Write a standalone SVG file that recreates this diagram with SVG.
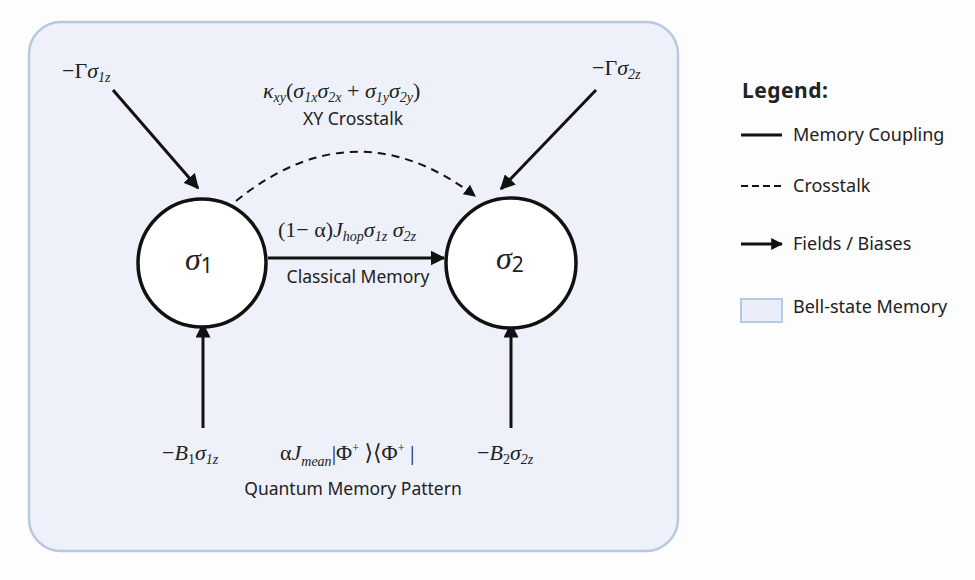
<svg xmlns="http://www.w3.org/2000/svg" width="975" height="580" viewBox="0 0 975 580">
<defs>
<style>
.m{font-family:"Liberation Serif","DejaVu Serif",serif;font-size:22px;fill:#222}
.mi{font-style:italic}
.sb{font-size:14px;font-style:italic}
.s{font-family:"Noto Sans","Open Sans",sans-serif;font-size:17.5px;fill:#222}
.lg{font-family:"Noto Sans","Open Sans",sans-serif;font-size:18px;fill:#222}
.ln{stroke:#111;stroke-width:3;fill:none}
.node{fill:#fff;stroke:#111;stroke-width:3.5}
</style>
<marker id="ah" viewBox="0 0 10 10" refX="9" refY="5" markerWidth="5" markerHeight="5" orient="auto" markerUnits="strokeWidth"><path d="M0,0 L10,5 L0,10 z" fill="#111"/></marker>
<marker id="ahl" viewBox="0 0 10 10" refX="9" refY="5" markerWidth="4" markerHeight="4" orient="auto" markerUnits="strokeWidth"><path d="M0,0 L10,5 L0,10 z" fill="#111"/></marker>
<marker id="ahs" viewBox="0 0 10 10" refX="9" refY="5" markerWidth="6" markerHeight="6" orient="auto" markerUnits="strokeWidth"><path d="M0,0 L10,5 L0,10 z" fill="#111"/></marker>
</defs>
<rect width="975" height="580" fill="#fdfdfe"/>
<g id="panel"><rect x="29" y="22" width="649" height="529" rx="32" fill="#eef1fa" stroke="#b7c8e2" stroke-width="2.5"/></g>
<g id="connectors">
<line class="ln" x1="113" y1="90" x2="198" y2="188" marker-end="url(#ah)"/>
<line class="ln" x1="596" y1="90" x2="501" y2="189" marker-end="url(#ah)"/>
<line class="ln" x1="203" y1="428" x2="203" y2="324" marker-end="url(#ah)"/>
<line class="ln" x1="511" y1="428" x2="511" y2="324" marker-end="url(#ah)"/>
<line class="ln" x1="268" y1="258" x2="444" y2="258" marker-end="url(#ah)"/>
<path d="M236,201 Q355,105 475,196" stroke="#111" stroke-width="2" fill="none" stroke-dasharray="8,6" marker-end="url(#ahs)"/>
</g>
<g id="node-sigma1"><circle class="node" cx="202" cy="263" r="64"/><text class="m mi" x="185" y="270" style="font-size:32px">σ<tspan style="font-style:normal;font-family:'Noto Sans',sans-serif;font-size:21px" dy="3">1</tspan></text></g>
<g id="node-sigma2"><circle class="node" cx="511" cy="263" r="65"/><text class="m mi" x="496" y="269" style="font-size:32px">σ<tspan style="font-style:normal;font-family:'Noto Sans',sans-serif;font-size:21px" dy="3">2</tspan></text></g>
<g id="labels">
<text class="m" x="62" y="78">−Γ<tspan class="mi">σ</tspan><tspan class="sb" dy="4">1z</tspan></text>
<text class="m" x="592" y="75">−Γ<tspan class="mi">σ</tspan><tspan class="sb" dy="4">2z</tspan></text>
<text class="m" x="263" y="98"><tspan class="mi">κ</tspan><tspan class="sb" dy="4">xy</tspan><tspan dy="-4">(</tspan><tspan class="mi">σ</tspan><tspan class="sb" dy="4">1x</tspan><tspan class="mi" dy="-4">σ</tspan><tspan class="sb" dy="4">2x</tspan><tspan dy="-4"> + </tspan><tspan class="mi">σ</tspan><tspan class="sb" dy="4">1y</tspan><tspan class="mi" dy="-4">σ</tspan><tspan class="sb" dy="4">2y</tspan><tspan dy="-4">)</tspan></text>
<text class="s" x="353" y="125" text-anchor="middle">XY Crosstalk</text>
<text class="m" x="278" y="237">(1− α)<tspan class="mi">J</tspan><tspan class="sb" dy="4">hop</tspan><tspan class="mi" dy="-4">σ</tspan><tspan class="sb" dy="4">1z</tspan><tspan class="mi" dy="-4"> σ</tspan><tspan class="sb" dy="4">2z</tspan></text>
<text class="s" x="358" y="283" text-anchor="middle">Classical Memory</text>
<text class="m" x="162" y="460">−<tspan class="mi">B</tspan><tspan style="font-size:14px" dy="4">1</tspan><tspan class="mi" dy="-4">σ</tspan><tspan class="sb" dy="4">1z</tspan></text>
<text class="m" x="477" y="460">−<tspan class="mi">B</tspan><tspan style="font-size:14px" dy="4">2</tspan><tspan class="mi" dy="-4">σ</tspan><tspan class="sb" dy="4">2z</tspan></text>
<text class="m" x="280" y="460">α<tspan class="mi">J</tspan><tspan class="sb" dy="6">mean</tspan><tspan dy="-6">|Φ</tspan><tspan style="font-size:12px" dy="-8">+</tspan><tspan dy="8"> ⟩⟨Φ</tspan><tspan style="font-size:12px" dy="-8">+</tspan><tspan dy="8"> |</tspan></text>
<text class="s" x="353" y="495" text-anchor="middle">Quantum Memory Pattern</text>
</g>
<g id="legend">
<text class="lg" x="742" y="98" style="font-size:21px;font-weight:bold;letter-spacing:0.5px">Legend:</text>
<line x1="741" y1="135" x2="782" y2="135" stroke="#111" stroke-width="3"/>
<text class="lg" x="793" y="141">Memory Coupling</text>
<line x1="741" y1="186" x2="782" y2="186" stroke="#111" stroke-width="2" stroke-dasharray="7,4"/>
<text class="lg" x="793" y="192">Crosstalk</text>
<line x1="741" y1="244" x2="782" y2="244" stroke="#111" stroke-width="3" marker-end="url(#ahl)"/>
<text class="lg" x="793" y="250">Fields / Biases</text>
<rect x="741" y="299" width="41" height="23" fill="#e9eef9" stroke="#b7c8e2" stroke-width="2"/>
<text class="lg" x="793" y="313">Bell-state Memory</text>
</g>
</svg>
